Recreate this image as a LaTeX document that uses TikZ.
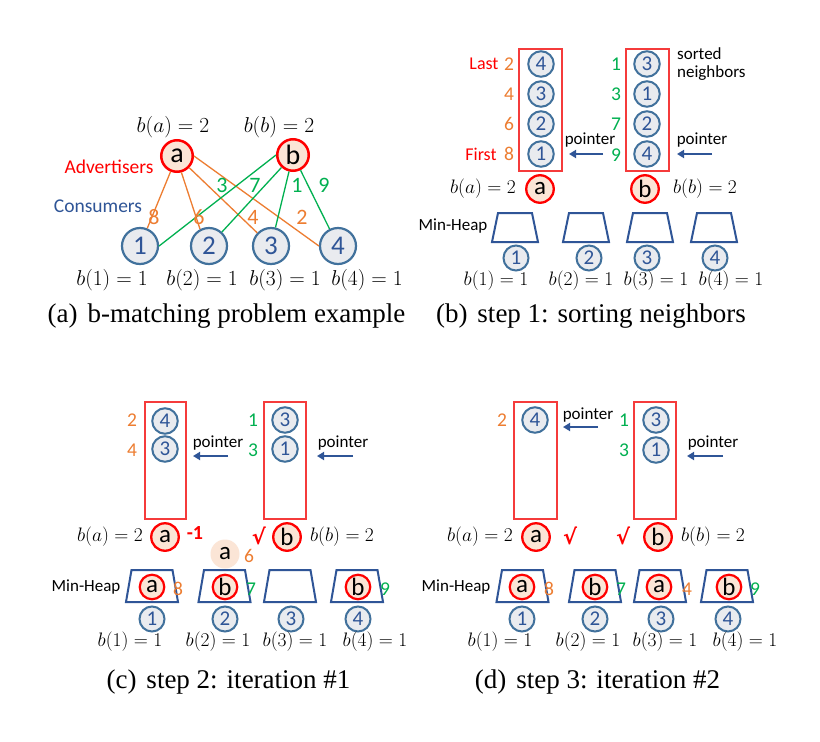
\RequirePackage{fix-cm}
\documentclass[tikz,border=0pt]{standalone}
\usepackage{fontspec}
\newfontfamily\carl{Carlito}
\newfontfamily\capfont{Liberation Serif}
\newfontfamily\dejavu{DejaVu Sans}
\usetikzlibrary{arrows.meta}
\definecolor{cred}{HTML}{FF0000}
\definecolor{peach}{HTML}{FBE5D6}
\definecolor{corange}{HTML}{ED7D31}
\definecolor{cgreen}{HTML}{00B050}
\definecolor{cblue}{HTML}{2F5597}
\definecolor{steel}{HTML}{41719C}
\definecolor{cgray}{HTML}{E9EBEF}
\definecolor{boxred}{HTML}{F53B3B}
\tikzset{
  advA/.style={circle,draw=cred,line width=2.5pt,fill=peach,inner sep=0pt,minimum size=31.5pt,font=\carl\fontsize{28}{28}\selectfont},
  consA/.style={circle,draw=steel,line width=2.2pt,fill=cgray,text=cblue,inner sep=0pt,minimum size=36pt,font=\carl\fontsize{27}{27}\selectfont},
  adv/.style={circle,draw=cred,line width=2.3pt,fill=peach,inner sep=0pt,minimum size=27.5pt,font=\carl\fontsize{25}{25}\selectfont},
  hadv/.style={circle,draw=cred,line width=2.2pt,fill=peach,inner sep=0pt,minimum size=24.5pt,font=\carl\fontsize{25}{25}\selectfont},
  ghost/.style={circle,fill=peach,inner sep=0pt,minimum size=29pt,font=\carl\fontsize{25}{25}\selectfont},
  col/.style={circle,draw=steel,line width=2pt,fill=cgray,text=cblue,inner sep=0pt,minimum size=25.5pt,font=\carl\fontsize{21}{21}\selectfont},
  cons/.style={circle,draw=steel,line width=2pt,fill=cgray,text=cblue,inner sep=0pt,minimum size=25pt,font=\carl\fontsize{21}{21}\selectfont},
  mthA/.style={inner sep=0pt,font=\fontsize{21.5}{21.5}\selectfont},
  mth/.style={inner sep=0pt,font=\fontsize{19.5}{19.5}\selectfont},
  lblA/.style={inner sep=0pt,font=\carl\fontsize{22}{22}\selectfont},
  num/.style={inner sep=0pt,font=\carl\fontsize{19.5}{19.5}\selectfont},
  word/.style={inner sep=0pt,font=\carl\fontsize{17}{17}\selectfont},
  bigword/.style={inner sep=0pt,font=\carl\fontsize{19.5}{19.5}\selectfont},
  chk/.style={inner sep=0pt,text=cred,font=\dejavu\bfseries\fontsize{21}{21}\selectfont},
  redbox/.style={draw=boxred,line width=1.3pt},
  heapline/.style={draw=cblue,line width=2pt,line join=miter},
  ptr/.style={draw=cblue,line width=2.6pt,-{Triangle[length=7pt,width=8pt]}},
  oedge/.style={draw=corange,line width=1.3pt},
  gedge/.style={draw=cgreen,line width=1.3pt},
  captext/.style={inner sep=0pt,anchor=base,font=\capfont\fontsize{27}{27}\selectfont},
  pics/heap/.style n args={3}{code={\draw[heapline] (-#1,#3) -- (#1,#3) -- (#2,-#3) -- (-#2,-#3) -- cycle;}}
}
\begin{document}
\begin{tikzpicture}[x=1pt,y=-1pt]
\path[use as bounding box,fill=white] (0,0) rectangle (820,742);

% ---------------- panel (a) ----------------
\node[advA] (aA) at (177,156) {a};
\node[advA] (bA) at (293,155) {b};
\node[mthA] (baA) at (173,127) {$b(a)=2$};
\node[mthA] (bbA) at (279,127) {$b(b)=2$};
\node[bigword,text=cred] (advl) at (109,167) {Advertisers};
\node[bigword,text=cblue] (consl) at (98,206) {Consumers};
\node[consA] (A1) at (140,246) {1};
\node[consA] (A2) at (209,246) {2};
\node[consA] (A3) at (271,246) {3};
\node[consA] (A4) at (338,246) {4};
\draw[oedge] (aA) -- (A1);
\draw[oedge] (aA.-75) -- (A2.118);
\draw[oedge] (aA) -- (A3);
\draw[oedge] (aA.east) -- (A4.west);
\draw[gedge] (bA.west) -- (A1.east);
\draw[gedge] (bA) -- (A2);
\draw[gedge] (bA) -- (A3);
\draw[gedge] (bA) -- (A4);
\node[lblA,text=corange] (wa1) at (154,217) {8};
\node[lblA,text=corange] (wa2) at (199,217) {6};
\node[lblA,text=corange] (wa3) at (253,217) {4};
\node[lblA,text=corange] (wa4) at (302,217) {2};
\node[lblA,text=cgreen] (wb1) at (222,185) {3};
\node[lblA,text=cgreen] (wb2) at (255,185) {7};
\node[lblA,text=cgreen] (wb3) at (297,185) {1};
\node[lblA,text=cgreen] (wb4) at (324,185) {9};
\node[mthA] (bA1) at (112,280) {$b(1)=1$};
\node[mthA] (bA2) at (202,280) {$b(2)=1$};
\node[mthA] (bA3) at (285,280) {$b(3)=1$};
\node[mthA] (bA4) at (367,280) {$b(4)=1$};
\node[captext] (capA) at (226.5,322) {(a)\hspace{10pt}b-matching problem example};

% ---------------- panel (b) ----------------
\draw[redbox] (519,49) rectangle (562,171);
\draw[redbox] (626,49) rectangle (669,171);
\node[col] (Bl4) at (541,64) {4};
\node[col] (Bl3) at (541,94) {3};
\node[col] (Bl2) at (541,124) {2};
\node[col] (Bl1) at (541,154) {1};
\node[col] (Br3) at (647,64) {3};
\node[col] (Br1) at (647,94) {1};
\node[col] (Br2) at (647,124) {2};
\node[col] (Br4) at (647,154) {4};
\node[num,text=corange] (Bo1) at (509,64) {2};
\node[num,text=corange] (Bo2) at (509,94) {4};
\node[num,text=corange] (Bo3) at (509,124) {6};
\node[num,text=corange] (Bo4) at (509,154) {8};
\node[num,text=cgreen] (Bg1) at (616,64) {1};
\node[num,text=cgreen] (Bg2) at (616,94) {3};
\node[num,text=cgreen] (Bg3) at (616,124) {7};
\node[num,text=cgreen] (Bg4) at (616,155) {9};
\node[word,text=cred,font=\carl\fontsize{18}{18}\selectfont] (last) at (484,64) {Last};
\node[word,text=cred,font=\carl\fontsize{18}{18}\selectfont] (first) at (481,154) {First};
\node[word,anchor=west,align=left,font=\carl\fontsize{17}{18}\selectfont] (sorted) at (677,64) {sorted\\neighbors};
\node[word] (ptrB1) at (590,140) {pointer};
\coordinate (pB1s) at (603,154);
\coordinate (pB1e) at (569,154);
\draw[ptr] (pB1s) -- (pB1e);
\node[word] (ptrB2) at (702,140) {pointer};
\coordinate (pB2s) at (712,154);
\coordinate (pB2e) at (677,154);
\draw[ptr] (pB2s) -- (pB2e);
\node[adv] (aB) at (540,189) {a};
\node[adv] (bB) at (645,189) {b};
\node[mth] (baB) at (483,189) {$b(a)=2$};
\node[mth] (bbB) at (705,189) {$b(b)=2$};
\node[word] (mhB) at (453,226) {Min-Heap};
\pic at (515,227.5) {heap={23}{17}{14.5}};
\pic at (586,227.5) {heap={23}{17}{14.5}};
\pic at (650,227.5) {heap={23}{17}{14.5}};
\pic at (714,227.5) {heap={23}{17}{14.5}};
\node[cons] (B1) at (516,258) {1};
\node[cons] (B2) at (589,258) {2};
\node[cons] (B3) at (647,258) {3};
\node[cons] (B4) at (715,258) {4};
\node[mth] (bB1) at (496,281) {$b(1)=1$};
\node[mth] (bB2) at (581,281) {$b(2)=1$};
\node[mth] (bB3) at (656,281) {$b(3)=1$};
\node[mth] (bB4) at (731,281) {$b(4)=1$};
\node[captext] (capB) at (591,322) {(b)\hspace{10pt}step 1: sorting neighbors};

% ---------------- panel (c) ----------------
\draw[redbox] (145,402) rectangle (186,519);
\draw[redbox] (264,402) rectangle (306,519);
\node[col] (Cl4) at (165,421) {4};
\node[col] (Cl3) at (165,449) {3};
\node[col] (Cr3) at (285,420) {3};
\node[col] (Cr1) at (285,449) {1};
\node[num,text=corange] (Co1) at (132,420) {2};
\node[num,text=corange] (Co2) at (132,450) {4};
\node[num,text=cgreen] (Cg1) at (253,420) {1};
\node[num,text=cgreen] (Cg2) at (253,450) {3};
\node[word] (ptrC1) at (218,443) {pointer};
\coordinate (pC1s) at (228,456);
\coordinate (pC1e) at (193,456);
\draw[ptr] (pC1s) -- (pC1e);
\node[word] (ptrC2) at (343,443) {pointer};
\coordinate (pC2s) at (353,456);
\coordinate (pC2e) at (317,456);
\draw[ptr] (pC2s) -- (pC2e);
\node[adv] (aC) at (165,537) {a};
\node[inner sep=0pt,text=cred,font=\carl\bfseries\fontsize{20}{20}\selectfont] (m1) at (195,533) {-1};
\node[mth] (baC) at (110,537) {$b(a)=2$};
\node[chk] (ckC) at (259,536) {√};
\node[adv] (bC) at (287,537) {b};
\node[mth] (bbC) at (342,537) {$b(b)=2$};
\node[ghost] (gC) at (225,554) {a};
\node[num,text=corange] (g6) at (249,556) {6};
\node[word] (mhC) at (86,587) {Min-Heap};
\pic at (152,586) {heap={26}{20.5}{16}};
\pic at (224.5,586) {heap={26}{20.5}{16}};
\pic at (290,586) {heap={26}{20.5}{16}};
\pic at (357,586) {heap={26}{20.5}{16}};
\node[hadv] (hC1) at (152,587) {a};
\node[num,text=corange] (hC1w) at (178,589) {8};
\node[hadv] (hC2) at (225,587) {b};
\node[num,text=cgreen] (hC2w) at (251,589) {7};
\node[hadv] (hC4) at (358,587) {b};
\node[num,text=cgreen] (hC4w) at (385,589) {9};
\node[cons] (C1) at (152,619) {1};
\node[cons] (C2) at (225,619) {2};
\node[cons] (C3) at (291,619) {3};
\node[cons] (C4) at (358,619) {4};
\node[mth] (bC1) at (130,642) {$b(1)=1$};
\node[mth] (bC2) at (218,642) {$b(2)=1$};
\node[mth] (bC3) at (295,642) {$b(3)=1$};
\node[mth] (bC4) at (375,642) {$b(4)=1$};
\node[captext] (capC) at (228.5,688) {(c)\hspace{10pt}step 2: iteration \#1};

% ---------------- panel (d) ----------------
\draw[redbox] (514,402) rectangle (557,519);
\draw[redbox] (634,402) rectangle (676,519);
\node[col] (Dl4) at (535,420) {4};
\node[num,text=corange] (Do1) at (502,420) {2};
\node[word] (ptrD1) at (588,415) {pointer};
\coordinate (pD1s) at (598,427);
\coordinate (pD1e) at (563,427);
\draw[ptr] (pD1s) -- (pD1e);
\node[col] (Dr3) at (656,420) {3};
\node[col] (Dr1) at (656,450) {1};
\node[num,text=cgreen] (Dg1) at (624,420) {1};
\node[num,text=cgreen] (Dg2) at (624,450) {3};
\node[word] (ptrD2) at (713,443) {pointer};
\coordinate (pD2s) at (723,456);
\coordinate (pD2e) at (687,456);
\draw[ptr] (pD2s) -- (pD2e);
\node[adv] (aD) at (536,537) {a};
\node[chk] (ckD1) at (570,536) {√};
\node[mth] (baD) at (480,537) {$b(a)=2$};
\node[chk] (ckD2) at (623,536) {√};
\node[adv] (bD) at (658,537) {b};
\node[mth] (bbD) at (713,537) {$b(b)=2$};
\node[word] (mhD) at (456,587) {Min-Heap};
\pic at (522.5,586) {heap={26}{20.5}{16}};
\pic at (595,586) {heap={26}{20.5}{16}};
\pic at (660,586) {heap={26}{20.5}{16}};
\pic at (727,586) {heap={26}{20.5}{16}};
\node[hadv] (hD1) at (522,587) {a};
\node[num,text=corange] (hD1w) at (549,589) {8};
\node[hadv] (hD2) at (595,587) {b};
\node[num,text=cgreen] (hD2w) at (621,589) {7};
\node[hadv] (hD3) at (659,587) {a};
\node[num,text=corange] (hD3w) at (687,589) {4};
\node[hadv] (hD4) at (729,587) {b};
\node[num,text=cgreen] (hD4w) at (755,589) {9};
\node[cons] (D1) at (522,619) {1};
\node[cons] (D2) at (595,619) {2};
\node[cons] (D3) at (661,619) {3};
\node[cons] (D4) at (728,619) {4};
\node[mth] (bD1) at (500,642) {$b(1)=1$};
\node[mth] (bD2) at (588,642) {$b(2)=1$};
\node[mth] (bD3) at (665,642) {$b(3)=1$};
\node[mth] (bD4) at (745,642) {$b(4)=1$};
\node[captext] (capD) at (597.5,688) {(d)\hspace{10pt}step 3: iteration \#2};
\end{tikzpicture}
\end{document}
